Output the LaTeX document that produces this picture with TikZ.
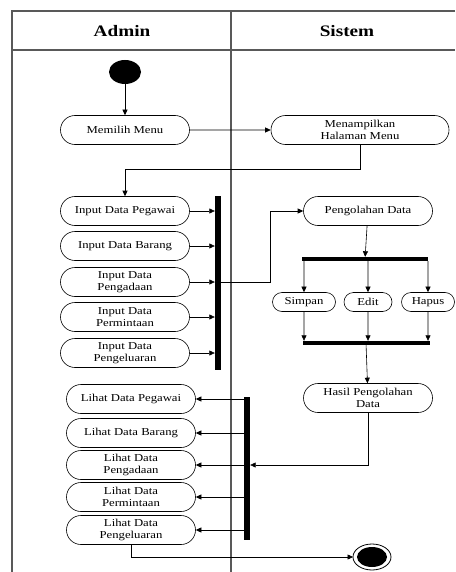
\documentclass[tikz,border=0pt]{standalone}
\usepackage{fontspec}
\setmainfont{Liberation Serif}[FakeStretch=1.2]
\usetikzlibrary{arrows.meta,shapes.misc}

\tikzset{
  act/.style={draw, rounded rectangle, line width=0.6pt, minimum width=131pt,
    minimum height=29pt, inner sep=1pt, align=center,
    font=\fontsize{10.6}{12.5}\selectfont},
  small act/.style={act, minimum width=#1, minimum height=19pt},
  bar/.style={fill=black, inner sep=0pt},
  flow/.style={-{Triangle[length=5.5pt,width=5pt]}, line width=0.6pt},
  lane/.style={gray!70!black, line width=1.2pt},
  lanetitle/.style={font=\fontsize{16}{18}\selectfont\bfseries}
}

\begin{document}
\begin{tikzpicture}[x=1pt,y=-1pt]
\useasboundingbox (0,0) rectangle (455,572);

\def\laneleft{12}
\def\lanediv{231}
\def\lanetop{11}
\def\lanehead{50}

% swimlanes
\draw[lane] (455,\lanetop) -- (\laneleft,\lanetop) -- (\laneleft,572);
\draw[lane] (\laneleft,\lanehead) -- (455,\lanehead);
\draw[lane] (\lanediv,\lanetop) -- (\lanediv,572);
\node[lanetitle] (admin) at (122,31) {Admin};
\node[lanetitle] (sistem) at (347,31) {Sistem};

% start
\fill (125,72) ellipse[x radius=16pt, y radius=12pt];
\coordinate (start) at (125,84);

\node[act] (memilih) at (125,130) {Memilih Menu};
\node[act, minimum width=180pt] (tampil) at (360,130) {Menampilkan\\Halaman Menu};

% input
\node[act] (inpeg) at (125,211) {Input Data Pegawai};
\node[act] (inbar) at (125,246) {Input Data Barang};
\node[act] (inada) at (125,282) {Input Data\\Pengadaan};
\node[act] (inmin) at (125,317) {Input Data\\Permintaan};
\node[act] (inkel) at (125,353) {Input Data\\Pengeluaran};
\node[bar, minimum width=6pt, minimum height=174pt] (fork1) at (218,283) {};

% proses sistem
\node[act] (olah) at (368,211) {Pengolahan Data};
\node[bar, minimum width=126pt, minimum height=4pt] (fork2) at (365,259) {};
\node[small act=65pt] (simpan) at (304,302) {Simpan};
\node[small act=50pt] (edit) at (368,302) {Edit};
\node[small act=55pt] (hapus) at (428,302) {Hapus};
\node[bar, minimum width=127pt, minimum height=4pt] (join) at (366,343) {};
\node[act] (hasil) at (368,398) {Hasil Pengolahan\\Data};

% lihat
\node[act] (lihpeg) at (131,399) {Lihat Data Pegawai};
\node[act] (lihbar) at (131,433) {Lihat Data Barang};
\node[act] (lihada) at (131,465) {Lihat Data\\Pengadaan};
\node[act] (lihmin) at (131,497) {Lihat Data\\Permintaan};
\node[act] (lihkel) at (131,530) {Lihat Data\\Pengeluaran};
\node[bar, minimum width=6pt, minimum height=143pt] (fork3) at (247,468) {};

% end
\draw[line width=0.8pt] (372,557) ellipse[x radius=19pt, y radius=13pt];
\fill (372,557) ellipse[x radius=15pt, y radius=10pt];
\coordinate (end) at (353,557);

% connectors
\draw[flow] (start) -- (memilih);
\draw[flow] (memilih) -- (tampil);
\draw[flow] (tampil.south) -- ++(0,24) -| (inpeg.north);
\foreach \n in {inpeg,inbar,inada,inmin,inkel}
  \draw[flow] (\n.east) -- (\n.east -| fork1.west);
\draw[flow] (fork1.east |- inada) -- (270,282) |- (olah.west);
\draw[flow] (olah) -- (fork2);
\foreach \n in {simpan,edit,hapus}{
  \draw[flow] (fork2.south -| \n) -- (\n);
  \draw[flow] (\n) -- (\n |- join.north);
}
\draw[flow] (join) -- (hasil);
\draw[flow] (hasil.south) |- (fork3.east |- lihada);
\foreach \n in {lihpeg,lihbar,lihada,lihmin,lihkel}
  \draw[flow] (fork3.west |- \n) -- (\n.east);
\draw[flow] (lihkel.south) |- (end);

\end{tikzpicture}
\end{document}
